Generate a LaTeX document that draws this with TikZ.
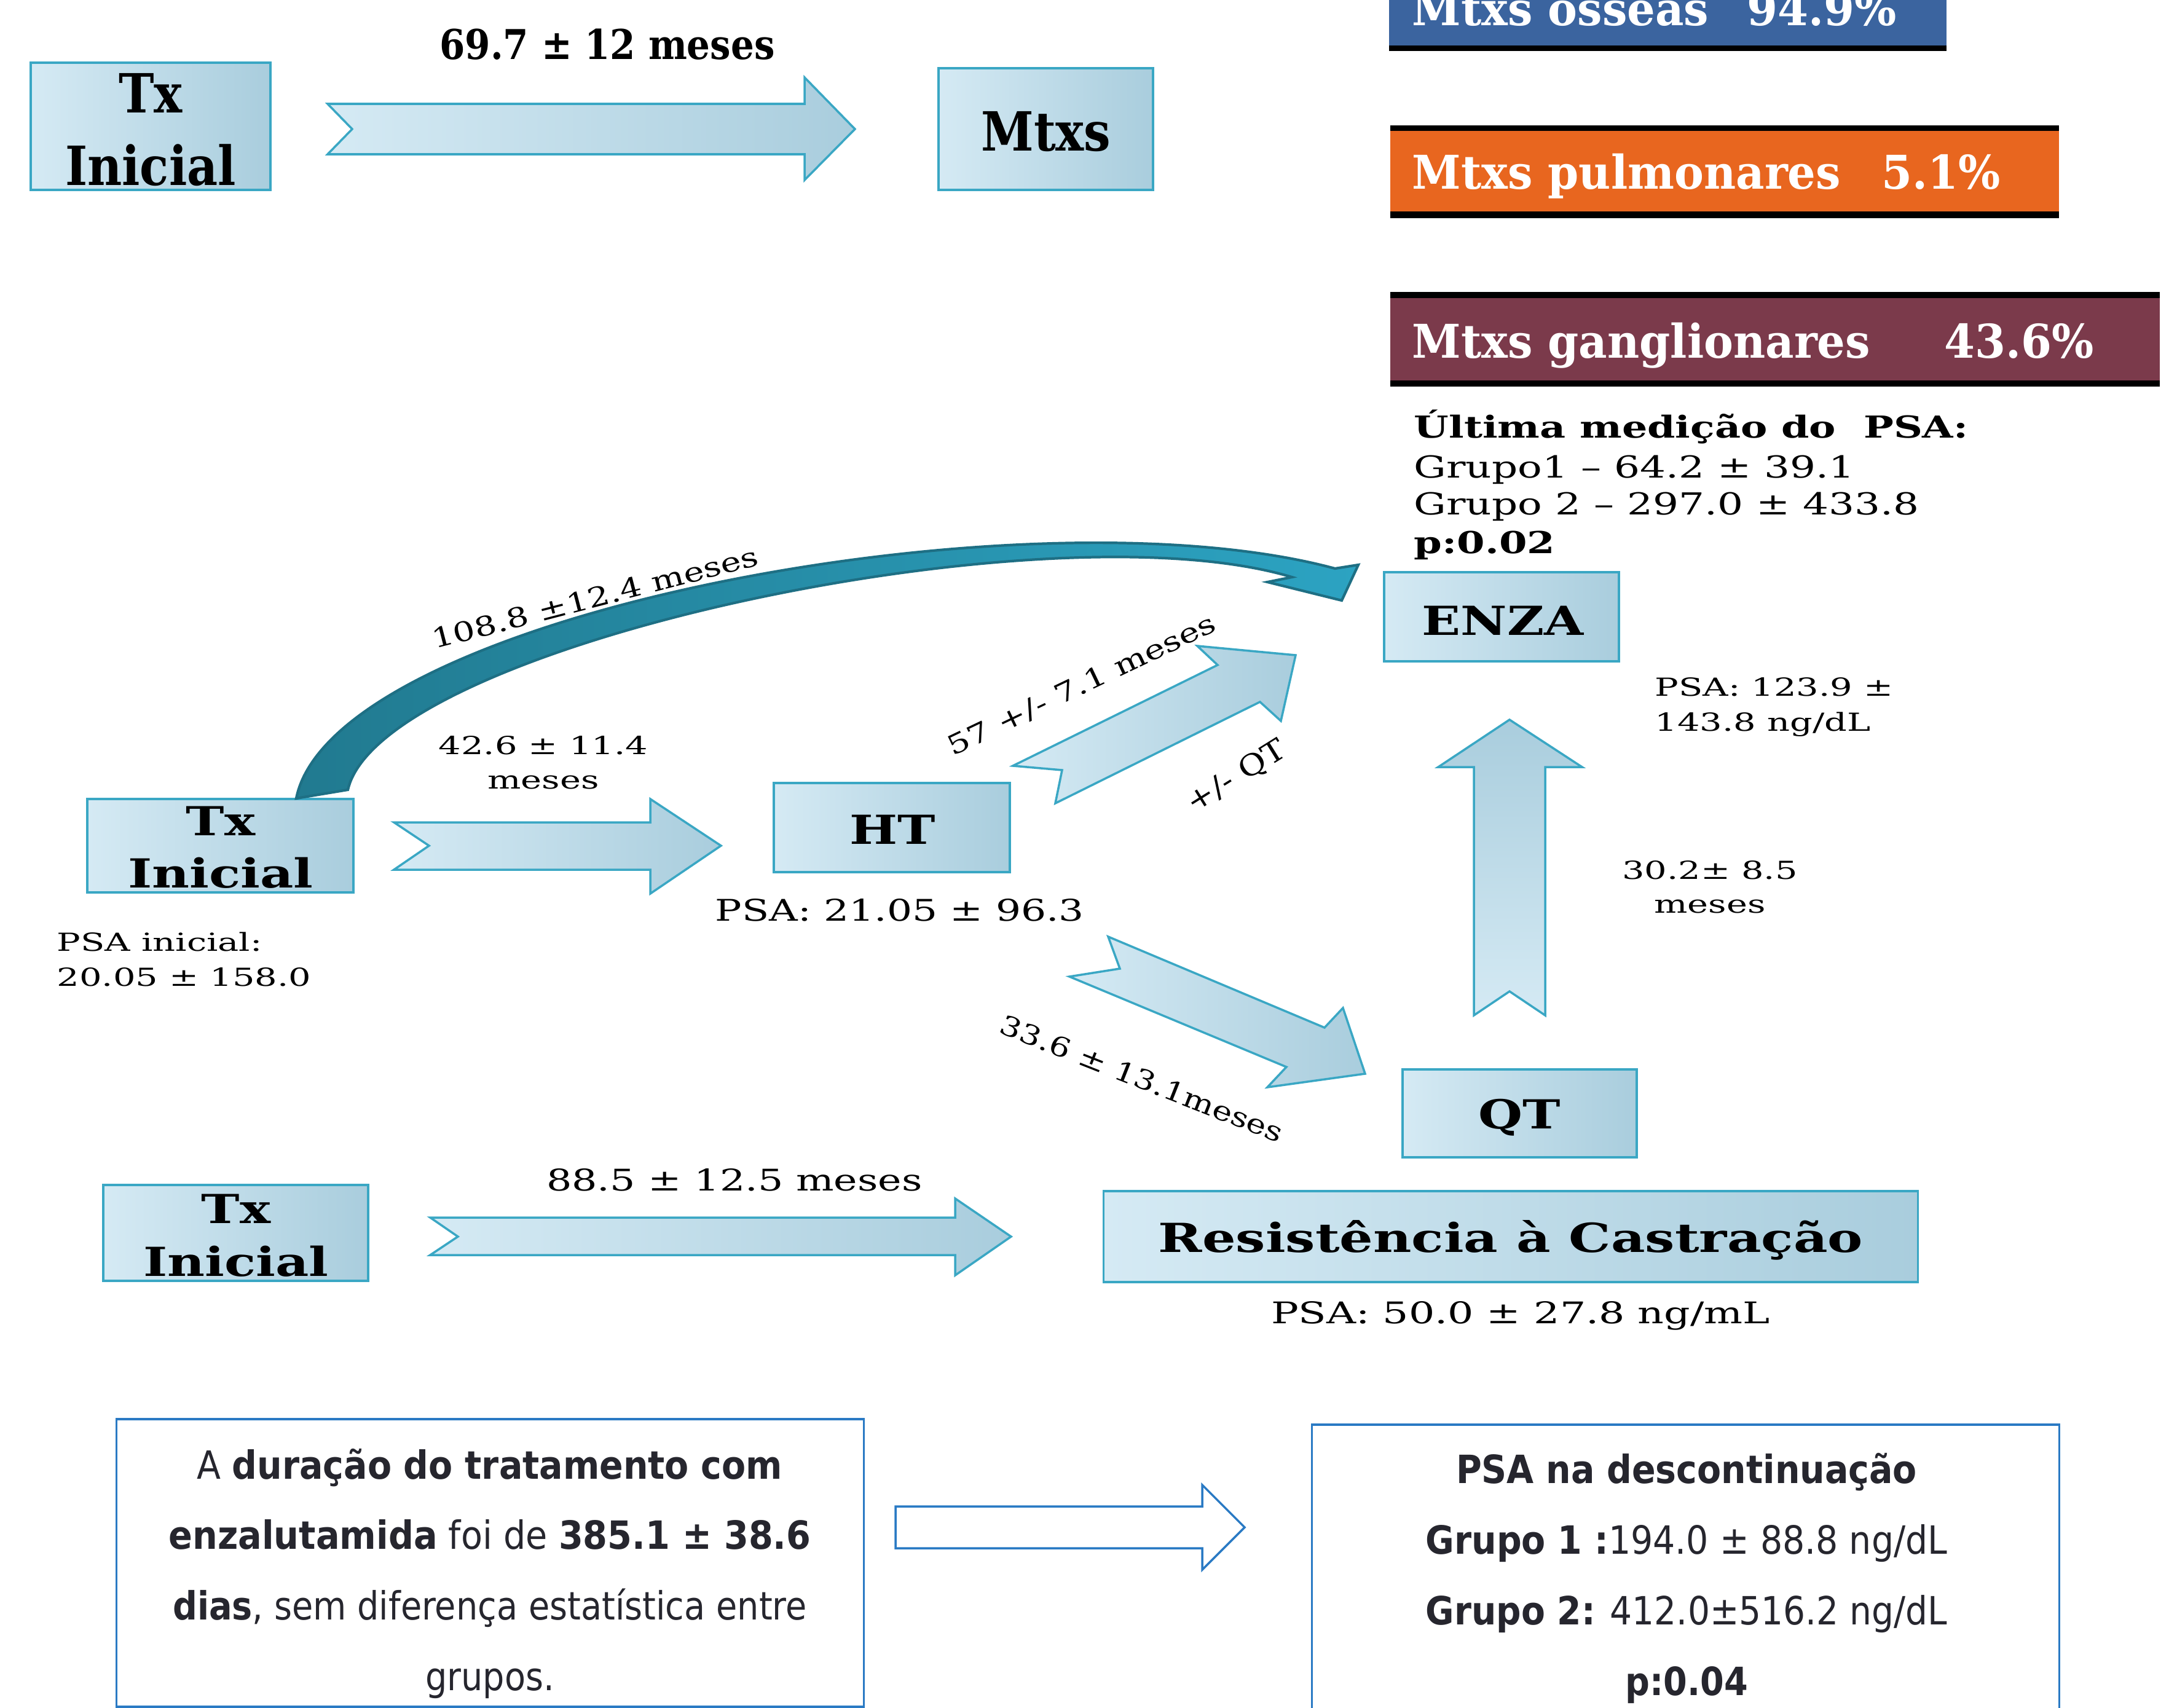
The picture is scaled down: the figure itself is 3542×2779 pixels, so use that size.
\documentclass[tikz,border=0pt]{standalone}
\usepackage{fontspec}
\usepackage{graphicx}
\setmainfont{DejaVu Serif}
\newfontfamily\sansf{DejaVu Sans}
\definecolor{boxL}{HTML}{D5EAF4}
\definecolor{boxR}{HTML}{A9CDDD}
\definecolor{boxB}{HTML}{3AA7C4}
\definecolor{curL}{HTML}{217A90}
\definecolor{curR}{HTML}{2CA3C2}
\definecolor{curB}{HTML}{1E6F84}
\definecolor{barBlue}{HTML}{3B649F}
\definecolor{barOrange}{HTML}{E8661F}
\definecolor{barMaroon}{HTML}{7B3A4B}
\definecolor{outB}{HTML}{2A7AC4}
\definecolor{txtD}{HTML}{26262E}
\newcommand\sx[2]{\scalebox{#1}[1]{#2}}
\tikzset{
 x=0.01cm, y=-0.01cm,
 lbox/.style={draw=boxB, line width=1pt, left color=boxL, right color=boxR, inner sep=0pt},
 barrow/.style={draw=boxB, line width=1pt, left color=boxL, right color=boxR},
 ft/.style 2 args={font={\fontsize{#1}{#2}\selectfont}, inner sep=0pt},
 bft/.style 2 args={font={\fontsize{#1}{#2}\selectfont\bfseries}, inner sep=0pt},
 bartxt/.style={font={\fontsize{21.5}{26}\selectfont\bfseries}, text=white, inner sep=0pt, anchor=base west},
 sbox/.style={draw=outB, line width=1pt, fill=white, inner sep=0pt},
 stxt/.style={font={\sansf\fontsize{18}{22}\selectfont}, text=txtD, inner sep=0pt, anchor=base},
}
\begin{document}
\begin{tikzpicture}
\useasboundingbox (0,0) rectangle (3542,2779);
\clip (0,0) rectangle (3542,2779);
\fill[white] (0,0) rectangle (3542,2779);

% ---- bars top right
\fill[barBlue] (2260,-20) rectangle (3167,74);
\fill[black] (2260,74) rectangle (3167,83);
\fill[black] (2262,204) rectangle (3350,213);
\fill[barOrange] (2262,213) rectangle (3350,344);
\fill[black] (2262,344) rectangle (3350,355);
\fill[black] (2262,475) rectangle (3514,485);
\fill[barMaroon] (2262,485) rectangle (3514,619);
\fill[black] (2262,619) rectangle (3514,629);
\node[bartxt] (b1a) at (2297,42) {\sx{0.95}{Mtxs osseas}};
\node[bartxt] (b1b) at (2842,42) {\sx{0.95}{94.9\%}};
\node[bartxt] (b2a) at (2297,308) {\sx{0.95}{Mtxs pulmonares}};
\node[bartxt] (b2b) at (3061,308) {\sx{0.95}{5.1\%}};
\node[bartxt] (b3a) at (2297,582) {\sx{0.95}{Mtxs ganglionares}};
\node[bartxt] (b3b) at (3163,582) {\sx{0.95}{43.6\%}};

% ---- boxes
\node[lbox, minimum width=3.9cm, minimum height=2.07cm] (tx1) at (245,205.5) {};
\node[lbox, minimum width=3.49cm, minimum height=1.98cm] (mtxs) at (1701.5,210) {};
\node[lbox, minimum width=3.82cm, minimum height=1.45cm] (enza) at (2443,1003.5) {};
\node[lbox, minimum width=3.84cm, minimum height=1.45cm] (ht) at (1451,1346.5) {};
\node[lbox, minimum width=4.33cm, minimum height=1.52cm] (tx2) at (358.5,1376) {};
\node[lbox, minimum width=3.81cm, minimum height=1.43cm] (qt) at (2472.5,1811.5) {};
\node[lbox, minimum width=4.31cm, minimum height=1.56cm] (tx3) at (383.5,2006) {};
\node[lbox, minimum width=13.24cm, minimum height=1.48cm] (res) at (2458,2012) {};

% ---- block arrows
\draw[barrow] (533,169) -- (1309,169) -- (1309,126) -- (1391,210) -- (1309,293) -- (1309,251) -- (533,251) -- (573,210) -- cycle;
\draw[barrow] (641,1338) -- (1058,1338) -- (1058,1300) -- (1173,1376) -- (1058,1454) -- (1058,1415) -- (641,1415) -- (698,1376) -- cycle;
\draw[barrow] (700,1981) -- (1554,1981) -- (1554,1950) -- (1645,2012) -- (1554,2075) -- (1554,2042) -- (700,2042) -- (745,2012) -- cycle;
\draw[draw=boxB, line width=1pt, top color=boxR, bottom color=boxL] (2456,1171) -- (2574,1248) -- (2514,1248) -- (2514,1652) -- (2456,1613) -- (2398,1652) -- (2398,1248) -- (2340,1248) -- cycle;
\draw[barrow] (1648,1246) -- (1981,1082) -- (1948,1051) -- (2108,1066) -- (2084,1173) -- (2050,1142) -- (1717,1307) -- (1728,1253) -- cycle;
\draw[barrow] (1803,1524) -- (2155,1672) -- (2185,1640) -- (2221,1747) -- (2062,1769) -- (2093,1736) -- (1740,1589) -- (1822,1576) -- cycle;

% ---- curved arrow
\draw[curB, line width=1.2pt, left color=curL, right color=curR]
 (482,1299) .. controls (542,999) and (1672,790) .. (2172,925)
 -- (2210,919) -- (2183,977) -- (2062,947) -- (2102,939)
 .. controls (1702,819) and (620,1050) .. (566,1285) -- cycle;

% ---- box texts
\node[bft={25}{33.6}] (tx1t) at (245,219) {\sx{0.88}{\begin{tabular}{@{}c@{}}Tx\\Inicial\end{tabular}}};
\node[bft={25}{30}, anchor=base] (mtxst) at (1702,246) {\sx{0.88}{Mtxs}};
\node[bft={19}{23}, anchor=base] (l697) at (988,97) {\sx{0.89}{69.7 ± 12 meses}};
\node[bft={18.5}{22}, anchor=base] (enzat) at (2445,1033) {\sx{1.27}{ENZA}};
\node[bft={18.5}{22}, anchor=base] (htt) at (1452,1373) {\sx{1.27}{HT}};
\node[bft={18.5}{22}, anchor=base] (qtt) at (2472,1836) {\sx{1.27}{QT}};
\node[bft={18.5}{22}, anchor=base] (rest) at (2458,2037) {\sx{1.32}{Resistência à Castração}};
\node[bft={18.5}{24}] (tx2t) at (359,1385) {\sx{1.29}{\begin{tabular}{@{}c@{}}Tx\\Inicial\end{tabular}}};
\node[bft={18.5}{24.5}] (tx3t) at (384,2016) {\sx{1.29}{\begin{tabular}{@{}c@{}}Tx\\Inicial\end{tabular}}};

% ---- labels
\node[ft={11.5}{15.9}] (l426) at (884,1244) {\sx{1.42}{\begin{tabular}{@{}c@{}}42.6 ± 11.4\\meses\end{tabular}}};
\node[ft={13.8}{16}, anchor=base] (psaht) at (1464,1498) {\sx{1.33}{PSA: 21.05 ± 96.3}};
\node[ft={11.5}{16.2}, anchor=west] (psain) at (92,1565) {\sx{1.42}{\begin{tabular}{@{}l@{}}PSA inicial:\\20.05 ± 158.0\end{tabular}}};
\node[ft={11.5}{16.2}, anchor=west] (psaen) at (2692,1150) {\sx{1.42}{\begin{tabular}{@{}l@{}}PSA: 123.9 ±\\143.8 ng/dL\end{tabular}}};
\node[ft={11.5}{15.5}] (l302) at (2782,1447) {\sx{1.42}{\begin{tabular}{@{}c@{}}30.2± 8.5\\meses\end{tabular}}};
\node[ft={13.8}{16}, anchor=base] (l885) at (1195,1937) {\sx{1.34}{88.5 ± 12.5 meses}};
\node[ft={13.8}{16}, anchor=base] (psares) at (2474,2153) {\sx{1.37}{PSA: 50.0 ± 27.8 ng/mL}};
\node[ft={12.5}{15}, rotate=14.5] (l108) at (968,972) {\sx{1.28}{108.8 ±12.4 meses}};
\node[ft={12.5}{15}, rotate=25.5] (l57) at (1760,1115) {\sx{1.28}{57 +/- 7.1 meses}};
\node[ft={13.5}{16}, rotate=32] (lqt) at (2012,1264) {\sx{1.15}{+/- QT}};
\node[ft={12.5}{15}, rotate=-21.5] (l336) at (1858,1755) {\sx{1.23}{33.6 ± 13.1meses}};

% ---- ultima medicao
\node[bft={14}{17}, anchor=base west] (u1) at (2300,712) {\sx{1.32}{Última medição do\ \ PSA:}};
\node[ft={14}{17}, anchor=base west] (u2) at (2300,777) {\sx{1.34}{Grupo1 – 64.2 ± 39.1}};
\node[ft={14}{17}, anchor=base west] (u3) at (2300,837) {\sx{1.34}{Grupo 2 – 297.0 ± 433.8}};
\node[bft={14}{17}, anchor=base west] (u4) at (2300,900) {\sx{1.33}{p:0.02}};

% ---- bottom boxes
\node[sbox, minimum width=12.15cm, minimum height=4.68cm] (dur) at (797.5,2543) {};
\node[sbox, minimum width=12.15cm, minimum height=5cm] (psad) at (2742.5,2568) {};
\draw[outB, line width=1pt, fill=white] (1457,2451) -- (1956,2451) -- (1956,2416) -- (2025,2485) -- (1956,2554) -- (1956,2519) -- (1457,2519) -- cycle;
\node[stxt] (d1) at (797,2406) {\sx{0.9}{A \textbf{duração do tratamento com}}};
\node[stxt] (d2) at (797,2520) {\sx{0.905}{\textbf{enzalutamida} foi de \textbf{385.1 ± 38.6}}};
\node[stxt] (d3) at (797,2635) {\sx{0.88}{\textbf{dias}, sem diferença estatística entre}};
\node[stxt] (d4) at (797,2750) {\sx{0.88}{grupos.}};
\node[stxt] (p1) at (2744,2413) {\sx{0.9}{\textbf{PSA na descontinuação}}};
\node[stxt] (p2) at (2744,2528) {\sx{0.9}{\textbf{Grupo 1 :}194.0 ± 88.8 ng/dL}};
\node[stxt] (p3) at (2744,2643) {\sx{0.895}{\textbf{Grupo 2:} 412.0±516.2 ng/dL}};
\node[stxt] (p4) at (2744,2758) {\sx{0.88}{\textbf{p:0.04}}};
\end{tikzpicture}
\end{document}
